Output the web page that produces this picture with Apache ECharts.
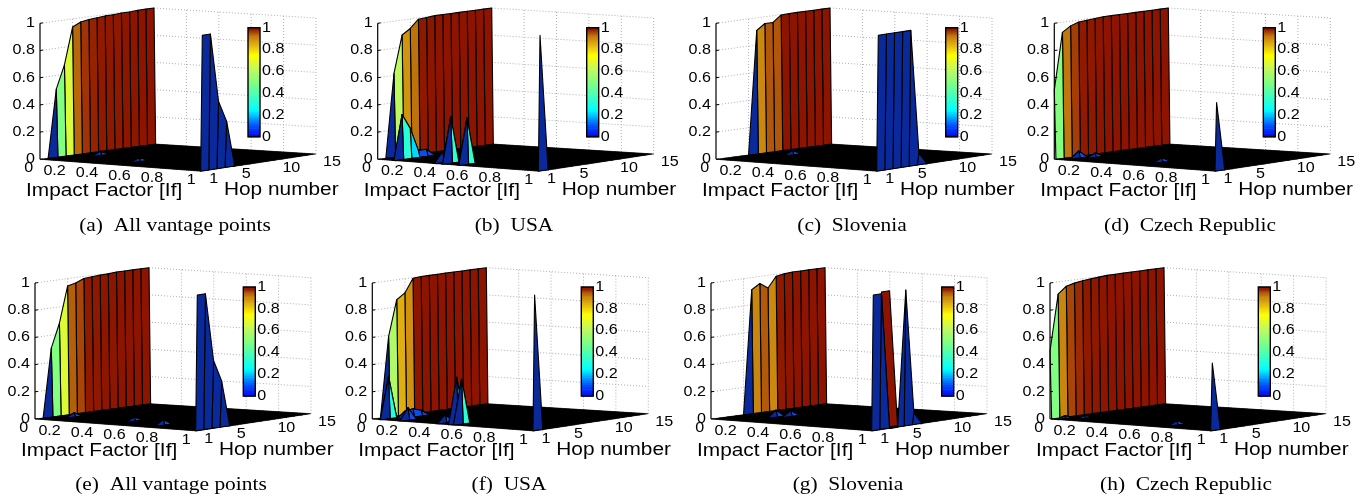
<!DOCTYPE html>
<html><head><meta charset="utf-8">
<style>html,body{margin:0;padding:0;background:#fff}#c{width:1365px;height:496px}</style>
<script src="https://cdn.jsdelivr.net/npm/echarts@6/dist/echarts.min.js"></script>
</head><body><div id="c"></div>
<script>
// ---------- data: z value by hop number 1..15 ----------
const hops=[1,2,3,4,5,6,7,8,9,10,11,12,13,14,15];
const impactTicks=[0,0.2,0.4,0.6,0.8,1];
const hopTicks=[1,5,10,15];
const zTicks=[0,0.2,0.4,0.6,0.8,1];
const captions=['(a)  All vantage points','(b)  USA','(c)  Slovenia','(d)  Czech Republic','(e)  All vantage points','(f)  USA','(g)  Slovenia','(h)  Czech Republic'];
// value along the If=0 edge
const nearA=[0,0,.50,.67,.94,.97,.98,.985,.99,.99,.995,.995,1,1,1];
const nearB=[0,0,.615,.89,.93,.99,.995,1,1,1,1,1,1,1,1];
const nearC=[0,0,0,0,0,.907,.95,.95,.997,1,1,1,1,1,1];
const nearD=[.51,.925,.965,.985,.99,.995,1,1,1,1,1,1,1,1,1];
const nearE=[0,0,.505,.68,.945,.96,.985,.99,.995,.995,1,1,1,1,1];
const nearF=[0,0,.59,.853,.895,.995,1,1,1,1,1,1,1,1,1];
const nearG=[0,0,0,0,0,.91,.948,.907,.985,.995,1,1,1,1,1];
const nearH=[.5,.91,.96,.975,.985,.99,.995,1,1,1,1,1,1,1,1];
// value along the If=1 edge (from hop 1)
const farA=[1,1,.495,.34];
const farB=[1];
const farC=[1,1,1,1,1,.09];
const farD=[.505];
const farE=[1,1,.5,.34];
const farF=[1];
const farG=[1,1,0,0,1,.09];
const farH=[.5];
// other non-zero rows: [If, first hop, values from that hop]
const ridgesA=[[.12,6,[.03]],[.456,4,[.03]]];
const ridgesB=[[.10,2,[.33,.22,.05,.05]],[.345,2,[.08]],[.40,2,[.34]],[.50,2,[.34]]];
const ridgesC=[[.166,7,[.03]]];
const ridgesD=[[.05,3,[.05]],[.10,4,[.03]],[.51,4,[.03]]];
const ridgesE=[[.086,4,[.03]],[.456,4,[.03]],[.69,3,[.04]]];
const ridgesF=[[.05,2,[.31]],[.10,3,[.05,.06,.04]],[.168,2,[.09]],[.40,2,[.06]],[.47,2,[.34]],[.495,2,[.33]]];
const ridgesG=[[.195,5,[.05]],[.24,6,[.04]]];
const ridgesH=[[.04,2,[.02]],[.106,3,[.02]],[.68,3,[.03]]];
// one coarse face in (g): [If from, If to, hop from, hop to, z at If from, z at If to]
const coarseFaceG=[.95,1,3,4,1,0];
const surfaces=[[nearA,farA,ridgesA],[nearB,farB,ridgesB],[nearC,farC,ridgesC],[nearD,farD,ridgesD],
                [nearE,farE,ridgesE],[nearF,farF,ridgesF],[nearG,farG,ridgesG,coarseFaceG],[nearH,farH,ridgesH]];
// ---------- layout ----------
const origins=[[40,159.3],[377.7,159.3],[716,159.3],[1054.3,159.3],[35,419],[372.3,419],[711,419],[1050,419]];
const barLefts=[248,586.7,945.7,1263.3,243.3,581.3,941.7,1258.3];
const barTops=[27.7,27.7,27.7,27.7,287,287,287,287];
const captionX=[175,514,852,1190,171,509,848,1186];
const captionY=[226,226,226,226,485,485,485,485];
const N=100;
const SANS='"Liberation Sans"',SERIF='"Liberation Serif"';
// oblique view of the box: horizontal/vertical offsets of the floor corners
function project(u,hop,z){
  const v=(hop-1)/14;
  const X=u*(1-v)*162.3+(1-u)*v*114+u*v*276;
  const Y=u*(1-v)*-12+(1-u)*v*15.3+u*v*5.3+z*136;
  return [X,Y];
}
const barStops=[[0,[0,0,240]],[.12,[0,96,255]],[.25,[0,255,255]],[.5,[128,255,128]],[.62,[192,248,96]],[.75,[255,255,0]],
  [.85,[224,176,16]],[.91,[201,134,14]],[.94,[184,104,10]],[.97,[160,52,6]],[.985,[144,26,0]],[1,[140,20,0]]];
function ramp(v){
  for(let i=1;i<barStops.length;i++){ if(v<=barStops[i][0]){
    const a=barStops[i-1],b=barStops[i],t=(v-a[0])/(b[0]-a[0]);
    return 'rgb('+a[1].map((c,k)=>Math.round(c+(b[1][k]-c)*t)).join(',')+')';
  }}
  return 'rgb(140,20,0)';
}
function surfaceColor(v){ return v<.02?'#0a2a9c':(v<.1?'#0a50e8':ramp(v)); }
function buildZ(s){
  const z=[];
  for(let i=0;i<=N;i++) z.push(hops.map(()=>0));
  z[0]=s[0].slice();
  s[1].forEach((v,j)=>z[N][j]=v);
  s[2].forEach(r=>{const i=Math.round(r[0]*N);r[2].forEach((v,k)=>z[i][r[1]-1+k]=v);});
  return z;
}
const grids=[],xAxes=[],yAxes=[],series=[];
function txt(px,py,text,align,size,scale,family){
  return {type:'text',x:px,y:py,scaleX:scale,silent:true,z2:5,
    style:{text:text,fill:'#000',fontSize:size,fontFamily:family,align:align,verticalAlign:'middle'}};
}
origins.forEach((o,p)=>{
  grids.push({left:o[0],top:o[1]-155,width:280,height:175,containLabel:false});
  xAxes.push({type:'value',gridIndex:2*p,min:0,max:280,show:false});
  yAxes.push({type:'value',gridIndex:2*p,min:-20,max:155,show:false});
  grids.push({left:barLefts[p],top:barTops[p],width:12,height:109});
  xAxes.push({type:'value',gridIndex:2*p+1,min:0,max:1,show:false});
  yAxes.push({type:'value',gridIndex:2*p+1,min:0,max:1,interval:.2,show:false});
  const axisIdx=2*p;
  // dotted box grid
  const lines=[];
  zTicks.forEach(t=>{ if(t>0){ lines.push([[0,1,t],[0,15,t]]); lines.push([[0,15,t],[1,15,t]]); }});
  impactTicks.forEach(t=>{ if(t>0) lines.push([[t,15,0],[t,15,1]]); });
  [5,10,15].forEach(h=>lines.push([[0,h,0],[0,h,1]]));
  series.push({type:'custom',xAxisIndex:axisIdx,yAxisIndex:axisIdx,silent:true,animation:false,z:1,clip:false,
    data:lines.map((l,i)=>[i,0]),
    renderItem(params,api){
      const l=lines[params.dataIndex];
      const a=api.coord(project(l[0][0],l[0][1],l[0][2])),b=api.coord(project(l[1][0],l[1][1],l[1][2]));
      return {type:'line',shape:{x1:a[0],y1:a[1],x2:b[0],y2:b[1]},style:{stroke:'#b0b0b0',lineWidth:1,lineDash:[1,2]}};
    }});
  // surface, far cells first
  const z=buildZ(surfaces[p]);
  const face=surfaces[p][3];
  const cells=[];
  for(let i=0;i<N;i++){
    if(face&&i===Math.round(face[0]*N)) cells.push(['face']);
    for(let j=13;j>=0;j--) cells.push([i,j]);
  }
  series.push({type:'custom',xAxisIndex:axisIdx,yAxisIndex:axisIdx,silent:true,animation:false,z:2,clip:false,
    data:cells.map((c,i)=>[i,0]),
    renderItem(params,api){
      const c=cells[params.dataIndex];
      if(c[0]==='face'){
        const pts=[[face[0],face[2],face[4]],[face[0],face[3],face[4]],[face[1],face[3],face[5]],[face[1],face[2],face[5]]]
          .map(k=>api.coord(project(k[0],k[1],k[2])));
        return {type:'polygon',shape:{points:pts},style:{fill:surfaceColor(face[4]),stroke:'#000',lineWidth:1.1,lineJoin:'round'}};
      }
      const i=c[0],j=c[1];
      const q=[[i,j],[i+1,j],[i+1,j+1],[i,j+1]];
      const pts=q.map(k=>api.coord(project(k[0]/N,hops[k[1]],z[k[0]][k[1]])));
      const flat=q.every(k=>z[k[0]][k[1]]===0);
      return {type:'polygon',shape:{points:pts},
        style:{fill:flat?'#000':surfaceColor(z[i][j]),stroke:'#000',lineWidth:flat?.4:1.1,lineJoin:'round'}};
    }});
  // axes and tick labels
  const marks=[];
  zTicks.forEach(t=>marks.push({k:'z',v:t}));
  impactTicks.forEach(t=>marks.push({k:'i',v:t}));
  hopTicks.forEach(t=>marks.push({k:'h',v:t}));
  marks.push({k:'ti'},{k:'th'},{k:'zaxis'},{k:'cap'});
  series.push({type:'custom',xAxisIndex:axisIdx,yAxisIndex:axisIdx,silent:true,animation:false,z:3,clip:false,
    data:marks.map((m,i)=>[i,0]),
    renderItem(params,api){
      const m=marks[params.dataIndex];
      const A=api.coord(project(0,1,0));
      if(m.k==='z'){const a=api.coord(project(0,1,m.v));
        return {type:'group',children:[
          {type:'line',shape:{x1:a[0],y1:a[1],x2:a[0]+3,y2:a[1]-.4},style:{stroke:'#000',lineWidth:1}},
          txt(a[0]-5,a[1],String(m.v),'right',14,1.15,SANS)]};}
      if(m.k==='i'){const a=api.coord(project(m.v,1,0));return txt(a[0]-6.7,a[1]+9.3,String(m.v),'right',14,1.15,SANS);}
      if(m.k==='h'){const a=api.coord(project(1,m.v,0));return txt(a[0]+7,a[1]+8,String(m.v),'left',14,1.15,SANS);}
      if(m.k==='ti')return txt(A[0]-14,A[1]+32,'Impact Factor [If]','left',17.5,1.19,SANS);
      if(m.k==='th')return txt(A[0]+184,A[1]+31,'Hop number','left',17.5,1.19,SANS);
      if(m.k==='cap')return txt(captionX[p],captionY[p],captions[p],'center',18,1.19,SERIF);
      const t=api.coord(project(0,1,1));
      return {type:'line',shape:{x1:A[0],y1:A[1],x2:t[0],y2:t[1]},style:{stroke:'#000',lineWidth:1.2}};
    }});
  // colour bar through its own axis
  const levels=[];for(let l=0;l<64;l++)levels.push(l);
  series.push({type:'custom',xAxisIndex:2*p+1,yAxisIndex:2*p+1,silent:true,animation:false,z:4,clip:false,
    data:levels.map(l=>[l,0]),
    renderItem(params,api){
      const l=levels[params.dataIndex];
      const a=api.coord([0,(l+1)/64]),b=api.coord([1,l/64]);
      return {type:'rect',shape:{x:a[0],y:a[1],width:b[0]-a[0],height:b[1]-a[1]+.6},style:{fill:ramp((l+.5)/64),stroke:null}};
    }});
  const barMarks=zTicks.concat(['frame']);
  series.push({type:'custom',xAxisIndex:2*p+1,yAxisIndex:2*p+1,silent:true,animation:false,z:5,clip:false,
    data:barMarks.map((m,i)=>[i,0]),
    renderItem(params,api){
      const m=barMarks[params.dataIndex];
      if(m==='frame'){const a=api.coord([0,1]),b=api.coord([1,0]);
        return {type:'rect',shape:{x:a[0],y:a[1],width:b[0]-a[0],height:b[1]-a[1]},style:{fill:null,stroke:'#000',lineWidth:1.4}};}
      const a=api.coord([1,m]);
      return txt(a[0]+2,a[1],String(m),'left',14,1.15,SANS);
    }});
});
const chart=echarts.init(document.getElementById('c'),null,{renderer:'canvas',width:1365,height:496});
chart.setOption({animation:false,backgroundColor:'#fff',tooltip:{show:false},grid:grids,xAxis:xAxes,yAxis:yAxes,series:series});
</script></body></html>
